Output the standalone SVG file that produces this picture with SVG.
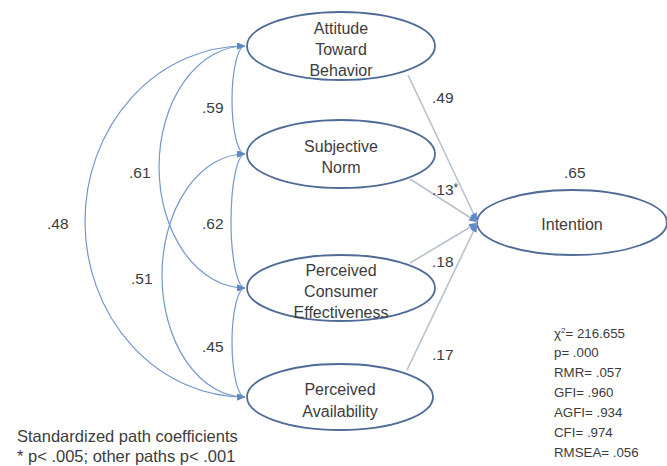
<svg xmlns="http://www.w3.org/2000/svg" width="667" height="466" viewBox="0 0 667 466">
  <defs>
    <style>
      .node ellipse { fill: #ffffff; stroke: #4d6b96; stroke-width: 1.8; }
      .label { font-family: "Liberation Sans", Arial, sans-serif; font-size: 16px; fill: #3c3c3c; text-anchor: middle; }
      .coef { font-family: "Liberation Sans", Arial, sans-serif; font-size: 15.5px; fill: #3c3c3c; }
      .note { font-family: "Liberation Sans", Arial, sans-serif; font-size: 16.5px; fill: #3c3c3c; }
      .fit { font-family: "Liberation Sans", Arial, sans-serif; font-size: 13.3px; fill: #3c3c3c; }
      .corr { fill: none; stroke: #7396cc; stroke-width: 1.2; marker-start: url(#arrow); marker-end: url(#arrow); }
      .path { fill: none; stroke: #b7c2cf; stroke-width: 1.6; marker-end: url(#arrow); }
    </style>
    <marker id="arrow" viewBox="0 0 8 7" refX="8" refY="3.5" markerWidth="8" markerHeight="7" markerUnits="userSpaceOnUse" orient="auto-start-reverse">
      <path d="M0,0 L8,3.5 L0,7 z" fill="#5f88c8"/>
    </marker>
  </defs>

  <rect x="0" y="0" width="667" height="466" fill="#ffffff"/>

  <!-- latent constructs -->
  <g id="attitude" class="node">
    <ellipse cx="341" cy="46" rx="94" ry="34"/>
    <text class="label" x="341" y="34">Attitude</text>
    <text class="label" x="341" y="55">Toward</text>
    <text class="label" x="341" y="76">Behavior</text>
  </g>
  <g id="subjective-norm" class="node">
    <ellipse cx="341" cy="154" rx="94" ry="34"/>
    <text class="label" x="341" y="152">Subjective</text>
    <text class="label" x="341" y="173">Norm</text>
  </g>
  <g id="consumer-effectiveness" class="node">
    <ellipse cx="341" cy="288" rx="94" ry="33"/>
    <text class="label" x="341" y="276">Perceived</text>
    <text class="label" x="341" y="297">Consumer</text>
    <text class="label" x="341" y="318">Effectiveness</text>
  </g>
  <g id="availability" class="node">
    <ellipse cx="340" cy="397" rx="93" ry="33"/>
    <text class="label" x="340" y="395">Perceived</text>
    <text class="label" x="340" y="417">Availability</text>
  </g>
  <g id="intention" class="node">
    <ellipse cx="572" cy="222.5" rx="95" ry="32.5"/>
    <text class="label" x="572" y="230">Intention</text>
  </g>

  <!-- correlations and structural paths -->
  <g id="connectors">
    <path class="corr" d="M245,46 A13,54 0 0 0 245,154"/>
    <path class="corr" d="M245,154 A14,67 0 0 0 245,288"/>
    <path class="corr" d="M245,288 A13,54.5 0 0 0 245,397"/>
    <path class="corr" d="M245,46 A86,121 0 0 0 245,288"/>
    <path class="corr" d="M245,154 A83,121.5 0 0 0 245,397"/>
    <path class="corr" d="M245,46 A160,175.5 0 0 0 245,397"/>

    <path class="path" d="M408,75 L477,221"/>
    <path class="path" d="M410,179 L477,222"/>
    <path class="path" d="M410,263 L477,223"/>
    <path class="path" d="M407,370 L477,224"/>
    <path class="path" d="M676,222 L665,222"/>
  </g>

  <!-- coefficients -->
  <g id="coefficients">
    <text class="coef" x="202" y="113">.59</text>
    <text class="coef" x="129" y="178">.61</text>
    <text class="coef" x="47" y="229">.48</text>
    <text class="coef" x="202" y="229">.62</text>
    <text class="coef" x="131" y="284">.51</text>
    <text class="coef" x="202" y="352">.45</text>
    <text class="coef" x="432" y="103">.49</text>
    <text class="coef" x="432" y="195">.13<tspan dy="-3" font-size="12">*</tspan></text>
    <text class="coef" x="432" y="267">.18</text>
    <text class="coef" x="432" y="360">.17</text>
    <text class="coef" x="564" y="178">.65</text>
  </g>

  <!-- legend -->
  <g id="legend">
    <text class="note" x="17" y="442">Standardized path coefficients</text>
    <text class="note" x="17" y="462">* p&lt; .005; other paths p&lt; .001</text>
  </g>

  <!-- fit indices -->
  <g id="fit-indices">
    <text class="fit" x="554" y="338">χ<tspan font-size="8" dy="-5">2</tspan><tspan dy="5">= 216.655</tspan></text>
    <text class="fit" x="554" y="357">p= .000</text>
    <text class="fit" x="554" y="377">RMR= .057</text>
    <text class="fit" x="554" y="397">GFI= .960</text>
    <text class="fit" x="554" y="417">AGFI= .934</text>
    <text class="fit" x="554" y="437">CFI= .974</text>
    <text class="fit" x="554" y="457">RMSEA= .056</text>
  </g>
</svg>
